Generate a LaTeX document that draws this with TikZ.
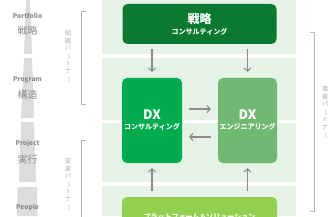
\documentclass[tikz,border=0pt]{standalone}
\usepackage{fontspec}
\setmainfont{Noto Sans CJK JP}
\usetikzlibrary{arrows.meta}
\definecolor{bandgreen}{HTML}{E6F2E6}
\definecolor{senryakugreen}{HTML}{0B7A30}
\definecolor{dxcgreen}{HTML}{00AC4E}
\definecolor{dxegreen}{HTML}{70B972}
\definecolor{pfgreen}{HTML}{92D14F}
\definecolor{towergray}{HTML}{DCDCDC}
\definecolor{labelgray}{HTML}{8A8A8A}
\definecolor{paleGray}{HTML}{B4B4B4}
\definecolor{arrowgray}{HTML}{8C8C8C}
\newcommand{\chobar}{\rotatebox[origin=c]{-90}{ー}}

\begin{document}
\begin{tikzpicture}[x=1pt,y=-1pt]
	 \tikzstyle{box}=[rounded corners=5pt,text=white,font=\bfseries,align=center,inner sep=0pt]
	 \tikzstyle{arr}=[draw,line width=1.1pt,arrowgray,-{Straight Barb[length=3pt,width=7pt]}]
	 \tikzstyle{level}=[text=labelgray,align=center,inner sep=0pt]
	 \tikzstyle{partner}=[text=paleGray,align=center,inner sep=0pt,font=\fontsize{6.5}{7.6}\selectfont]
	 \tikzstyle{bracket}=[draw,paleGray,line width=0.9pt]
	 \useasboundingbox (0,0) rectangle (336,216);
	 \clip (0,0) rectangle (336,216);
	 % bands
	 \fill[bandgreen] (102,0) rectangle (296,54.5);
	 \fill[bandgreen] (102,58) rectangle (296,119.5);
	 \fill[bandgreen] (102,122.5) rectangle (296,182);
	 \fill[bandgreen] (102,186) rectangle (296,216);
	 % tower
	 \fill[towergray] (26,0) -- (30,0) -- (32,54) -- (24,54) -- cycle;
	 \fill[towergray] (24,58) -- (32,58) -- (34,118) -- (21,118) -- cycle;
	 \fill[towergray] (21,122) -- (34,122) -- (36,182) -- (19,182) -- cycle;
	 \fill[towergray] (17.5,187) -- (37,187) -- (37.5,216) -- (17,216) -- cycle;
	 \node[level,font=\bfseries\fontsize{6.5}{7}\selectfont] (portfolio) at (27.5,15.5) {Portfolio};
	 \node[level,font=\fontsize{10}{11}\selectfont] (portfolioj) at (27.5,31) {戦略};
	 \node[level,font=\bfseries\fontsize{6.5}{7}\selectfont] (program) at (27.5,80) {Program};
	 \node[level,font=\fontsize{10}{11}\selectfont] (programj) at (27.5,95) {構造};
	 \node[level,font=\bfseries\fontsize{6.5}{7}\selectfont] (project) at (27.5,144) {Project};
	 \node[level,font=\fontsize{10}{11}\selectfont] (projectj) at (27.5,159.5) {実行};
	 \node[level,font=\bfseries\fontsize{6.5}{7}\selectfont] (people) at (27.5,208) {People};
	 % partners
	 \draw[bracket] (86,11) -- (81,11) -- (81,104) -- (86,104);
	 \draw[bracket] (86,140) -- (81,140) -- (81,222);
	 \draw[bracket] (310,32) -- (314,32) -- (314,211) -- (310,211);
	 \node[partner] (soshiki) at (68,56.5) {組\\織\\パ\\\chobar\\ト\\ナ\\\chobar};
	 \node[partner] (henkaku) at (68,184.5) {変\\革\\パ\\\chobar\\ト\\ナ\\\chobar};
	 \node[partner] (jigyo) at (325,112.5) {事\\業\\パ\\\chobar\\ト\\ナ\\\chobar};
	 % boxes
	 \node[box,fill=senryakugreen,minimum width=154pt,minimum height=40pt] (senryaku) at (199.5,24)
	   {{\fontsize{12}{13}\selectfont 戦略}\\[-1pt]{\fontsize{7}{8}\selectfont コンサルティング}};
	 \node[box,fill=dxcgreen,minimum width=60pt,minimum height=85pt] (dxc) at (152,120.5)
	   {{\fontsize{13}{14}\selectfont DX}\\[-2pt]{\fontsize{7}{8}\selectfont コンサルティング}};
	 \node[box,fill=dxegreen,minimum width=59pt,minimum height=85pt] (dxe) at (247.5,120.5)
	   {{\fontsize{13}{14}\selectfont DX}\\[-2pt]{\fontsize{7}{8}\selectfont エンジニアリング}};
	 \node[box,fill=pfgreen,minimum width=155pt,minimum height=40pt] (platform) at (199.5,217)
	   {\fontsize{7}{8}\selectfont プラットフォーム＆ソリューション};
	 % arrows
	 \draw[arr,shorten <=5pt,shorten >=6pt] (senryaku.south -| dxc) -- (dxc.north);
	 \draw[arr,shorten <=5pt,shorten >=6pt] (senryaku.south -| dxe) -- (dxe.north);
	 \draw[arr,shorten <=7pt,shorten >=7pt] ([yshift=11.5pt]dxc.east) -- ([yshift=11.5pt]dxe.west);
	 \draw[arr,shorten <=7pt,shorten >=7pt] ([yshift=-16.5pt]dxe.west) -- ([yshift=-16.5pt]dxc.east);
	 \draw[arr,shorten <=6pt,shorten >=5pt] (platform.north -| dxc) -- (dxc.south);
	 \draw[arr,shorten <=6pt,shorten >=5pt] (platform.north -| dxe) -- (dxe.south);
\end{tikzpicture}
\end{document}
